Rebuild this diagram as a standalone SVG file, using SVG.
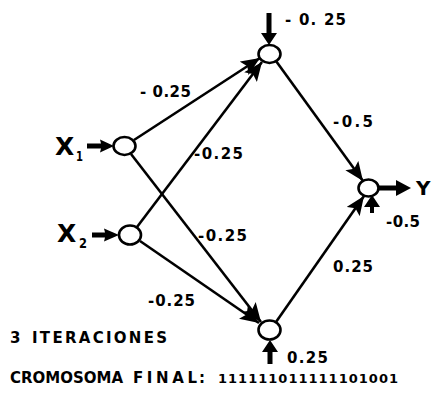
<svg xmlns="http://www.w3.org/2000/svg" width="438" height="398" viewBox="0 0 438 398">
  <style>
    .edge { stroke: #000; stroke-width: 2.6; fill: none; marker-end: url(#head); }
    .node { fill: #fff; stroke: #000; stroke-width: 2.6; }
    .fat { fill: #000; stroke: none; }
    text { font-family: "DejaVu Sans", "Liberation Sans", sans-serif; font-weight: bold; fill: #000; }
    .w { font-size: 15px; }
    .lbl { font-size: 25px; }
    .sub { font-size: 14px; }
    .foot { font-size: 15px; }
    .bits { font-size: 13px; }
  </style>
  <defs>
    <marker id="head" markerUnits="userSpaceOnUse" markerWidth="22" markerHeight="16" refX="19" refY="8" orient="auto">
      <path d="M0,0 L19,8 L0,16 L4,8 Z" fill="#000"/>
    </marker>
  </defs>

  <!-- weighted connections -->
  <g id="connectors">
    <line class="edge" x1="134" y1="140" x2="260" y2="58"/>
    <line class="edge" x1="137" y1="227" x2="262" y2="62"/>
    <line class="edge" x1="131" y1="154" x2="261" y2="322"/>
    <line class="edge" x1="140" y1="241" x2="259" y2="323"/>
    <line class="edge" x1="276" y1="61" x2="363" y2="181"/>
    <line class="edge" x1="276" y1="322" x2="364" y2="196"/>
  </g>

  <!-- input X1 -->
  <g id="x1">
    <path class="fat" d="M87,143.5 L101,143.5 L100,139.5 L114,146 L100,152.5 L101,148.5 L87,148.5 Z"/>
    <ellipse class="node" cx="124.5" cy="146" rx="11" ry="9"/>
    <text class="lbl" x="55" y="155">X</text>
    <text class="sub" x="76" y="161" textLength="7" lengthAdjust="spacingAndGlyphs">1</text>
  </g>

  <!-- input X2 -->
  <g id="x2">
    <path class="fat" d="M92,232.5 L105,232.5 L104,228.5 L119,235 L104,241.5 L105,237.5 L92,237.5 Z"/>
    <ellipse class="node" cx="130" cy="235" rx="11" ry="9.5"/>
    <text class="lbl" x="57" y="242">X</text>
    <text class="sub" x="79" y="248" textLength="8" lengthAdjust="spacingAndGlyphs">2</text>
  </g>

  <!-- upper hidden unit -->
  <g id="h1">
    <path class="fat" d="M266.5,13 L271.5,13 L271.5,33 L277,33 L269,45 L261,33 L266.5,33 Z"/>
    <ellipse class="node" cx="269.5" cy="54" rx="11" ry="9"/>
    <text class="w" x="285" y="25" textLength="61">- 0. 25</text>
  </g>

  <!-- lower hidden unit -->
  <g id="h2">
    <path class="fat" d="M267.5,364 L272.5,364 L272.5,352 L278,352 L270,340 L262,352 L267.5,352 Z"/>
    <ellipse class="node" cx="269.5" cy="330" rx="11" ry="9.5"/>
    <text class="w" x="287" y="363" textLength="41">0.25</text>
  </g>

  <!-- output unit -->
  <g id="y">
    <path class="fat" d="M378,185.5 L396,185.5 L396,180 L411,188 L396,196 L396,190.5 L378,190.5 Z"/>
    <path class="fat" d="M370,213 L374,213 L374,207 L380,207 L372,195 L364,207 L370,207 Z"/>
    <ellipse class="node" cx="368.5" cy="188" rx="10" ry="8.5"/>
    <text class="lbl" x="416" y="195" style="font-size:20px">Y</text>
    <text class="w" x="386" y="227" textLength="34">-0.5</text>
  </g>

  <!-- weight labels -->
  <g id="weights">
    <text class="w" x="140" y="97" textLength="51">- 0.25</text>
    <text class="w" x="194" y="159" textLength="49">-0.25</text>
    <text class="w" x="198" y="241" textLength="49">-0.25</text>
    <text class="w" x="148" y="306" textLength="47">-0.25</text>
    <text class="w" x="333" y="127" textLength="40">-0.5</text>
    <text class="w" x="333" y="272" textLength="40">0.25</text>
  </g>

  <!-- run summary -->
  <g id="summary">
    <text class="foot" x="10" y="343">3</text>
    <text class="foot" x="32" y="343" textLength="135">ITERACIONES</text>
    <text class="foot" x="10" y="383" textLength="113">CROMOSOMA</text>
    <text class="foot" x="133" y="383" textLength="64">FINAL</text>
    <text class="foot" x="199" y="383">:</text>
    <text class="bits" x="218" y="383" textLength="180">111111011111101001</text>
  </g>
</svg>
